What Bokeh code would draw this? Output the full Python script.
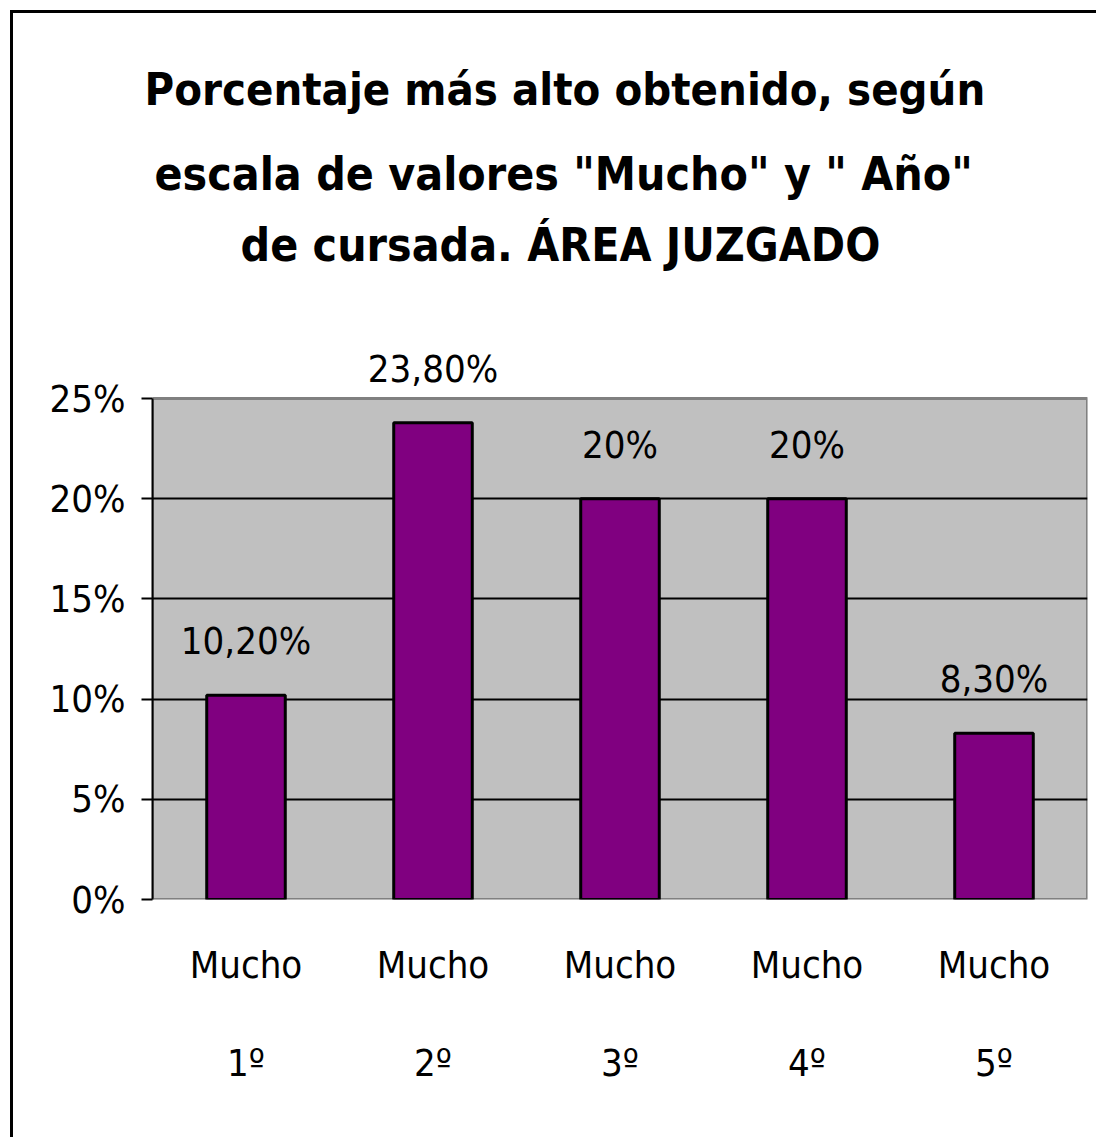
from bokeh.plotting import figure
from bokeh.models import (Range1d, FixedTicker, NumeralTickFormatter, CategoricalAxis,
                          Title, ColumnDataSource, LabelSet, CustomJSTickFormatter,
                          BoxAnnotation)
from bokeh.core.properties import value
from bokeh.embed import file_html
from bokeh.resources import INLINE

# ---- data ----
categories = ["1º", "2º", "3º", "4º", "5º"]
scale_label = "Mucho"
values = [0.102, 0.238, 0.20, 0.20, 0.083]
value_labels = ["10,20%", "23,80%", "20%", "20%", "8,30%"]
y_ticks = [0, 0.05, 0.10, 0.15, 0.20, 0.25]
y_max = 0.25
title_lines = ["Porcentaje más alto obtenido, según",
               "escala de valores \"Mucho\" y \" Año\"",
               "de cursada. ÁREA JUZGADO"]

FONT = "DejaVu Sans Condensed"
FS = "38px"

src = ColumnDataSource(dict(cat=categories, val=values, lab=value_labels))

p = figure(x_range=categories, y_range=Range1d(0, 0.28),
           width=1086, height=1127, output_backend="svg", toolbar_location=None,
           min_border_left=139, min_border_right=12, min_border_bottom=241,
           min_border_top=325)

p.background_fill_color = "white"
p.border_fill_color = "white"
p.outline_line_color = None

# gray plot area 0..25 %
p.add_layout(BoxAnnotation(bottom=0, top=y_max, fill_color="#C0C0C0", fill_alpha=1,
                           line_color="#808080", line_width=3, line_alpha=1,
                           level="image"))

# titles (closest to the plot first); a blank spacer title first
p.add_layout(Title(text=" ", text_font=FONT, text_font_size="40px", standoff=19), "above")
t_stand = [0, 29, 30]
t_off = [88, 2, -8]
t_size = ["46px", "46px", "45px"]
for line, so, off, fs in zip(reversed(title_lines), t_stand, t_off, t_size):
    p.add_layout(Title(text=line, align="left", offset=off, standoff=so,
                       text_font=FONT, text_font_size=fs,
                       text_font_style="bold", text_color="black"), "above")

p.vbar(x="cat", top="val", width=0.42, source=src,
       fill_color="#800080", line_color="black", line_width=3)

p.add_layout(LabelSet(x="cat", y="val", text="lab", source=src, y_offset=41,
                      text_align="center", text_baseline="alphabetic",
                      text_font=value(FONT), text_font_size=value(FS),
                      text_color="black"))

# y axis
p.yaxis.ticker = FixedTicker(ticks=y_ticks)
p.yaxis.bounds = (0, y_max)
p.yaxis.formatter = NumeralTickFormatter(format="0%")
p.yaxis.major_label_text_font = FONT
p.yaxis.major_label_text_font_size = FS
p.yaxis.major_label_text_color = "black"
p.yaxis.axis_line_color = "black"
p.yaxis.axis_line_width = 2
p.yaxis.major_tick_line_color = "black"
p.yaxis.major_tick_line_width = 2
p.yaxis.major_tick_out = 11
p.yaxis.major_tick_in = 0
p.yaxis.minor_tick_line_color = None
p.yaxis.major_label_standoff = 16

p.ygrid.ticker = FixedTicker(ticks=y_ticks[1:-1])
p.ygrid.grid_line_color = "black"
p.ygrid.grid_line_width = 2
p.xgrid.grid_line_color = None

# x axes: "Mucho" row and ordinal row
xa = p.xaxis[0]
xa.formatter = CustomJSTickFormatter(args=dict(lab=scale_label), code="return lab;")
xa.axis_line_color = None
xa.major_tick_line_color = None
xa.major_label_text_font = FONT
xa.major_label_text_font_size = FS
xa.major_label_text_color = "black"
xa.major_label_standoff = 37

xb = CategoricalAxis(axis_line_color=None, major_tick_line_color=None,
                     major_label_text_font=FONT, major_label_text_font_size=FS,
                     major_label_text_color="black", major_label_standoff=45)
p.add_layout(xb, "below")

p.styles = {"margin-left": "10px", "margin-top": "10px",
            "border-left": "3px solid black", "border-top": "3px solid black"}

open("out.html", "w").write(file_html(p, INLINE))
